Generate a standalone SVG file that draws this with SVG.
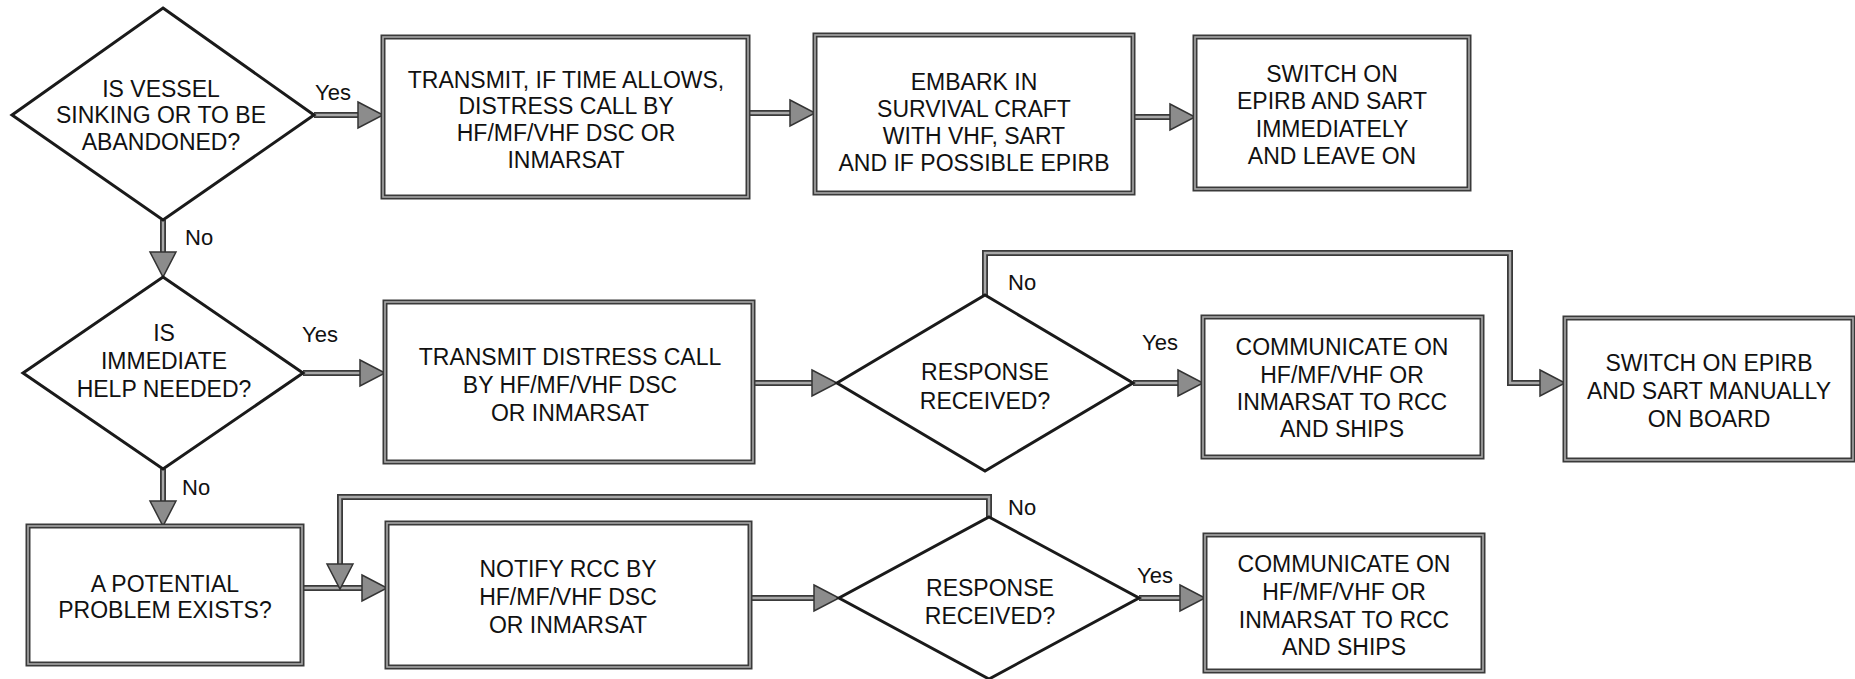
<svg xmlns="http://www.w3.org/2000/svg" width="1855" height="679" viewBox="0 0 1855 679">
<defs>
<style>
.d{fill:#fff;stroke:#1a1a1a;stroke-width:3;stroke-linejoin:miter}
.bo{fill:#fff;stroke:#3a3a3a;stroke-width:5}
.bi{fill:none;stroke:#a8a8a8;stroke-width:1.6}
.t{font-family:"Liberation Sans",Arial,sans-serif;font-size:23px;fill:#111;text-anchor:middle}
.l{font-family:"Liberation Sans",Arial,sans-serif;font-size:22px;fill:#111}
.co{fill:none;stroke:#3a3a3a;stroke-width:6}
.ci{fill:none;stroke:#a8a8a8;stroke-width:2.4;marker-end:url(#ah)}
</style>
<marker id="ah" markerUnits="userSpaceOnUse" markerWidth="30" markerHeight="30" refX="0" refY="0" orient="auto" overflow="visible">
<path d="M0,-13 L25,0 L0,13 Z" fill="#8c8c8c" stroke="#333" stroke-width="1.5" stroke-linejoin="miter"/>
</marker>
</defs>
<rect width="1855" height="679" fill="#fff"/>

<g id="connectors">
<path class="co" d="M314,115 H358"/><path class="ci" d="M314,115 H358"/>
<path class="co" d="M748,113 H790"/><path class="ci" d="M748,113 H790"/>
<path class="co" d="M1133,117 H1170"/><path class="ci" d="M1133,117 H1170"/>
<path class="co" d="M163,220 V252"/><path class="ci" d="M163,220 V252"/>
<path class="co" d="M303,373 H360"/><path class="ci" d="M303,373 H360"/>
<path class="co" d="M753,383 H812"/><path class="ci" d="M753,383 H812"/>
<path class="co" d="M985,295 V253 H1510 V383 H1540"/><path class="ci" d="M985,295 V253 H1510 V383 H1540"/>
<path class="co" d="M1133,383 H1178"/><path class="ci" d="M1133,383 H1178"/>
<path class="co" d="M163,469 V501"/><path class="ci" d="M163,469 V501"/>
<path class="co" d="M302,588 H362"/><path class="ci" d="M302,588 H362"/>
<path class="co" d="M989,517 V497 H340 V564"/><path class="ci" d="M989,517 V497 H340 V564"/>
<path class="co" d="M750,598 H814"/><path class="ci" d="M750,598 H814"/>
<path class="co" d="M1139,598 H1180"/><path class="ci" d="M1139,598 H1180"/>
<text class="l" x="315" y="100">Yes</text>
<text class="l" x="185" y="245">No</text>
<text class="l" x="302" y="342">Yes</text>
<text class="l" x="1008" y="290">No</text>
<text class="l" x="1142" y="350">Yes</text>
<text class="l" x="182" y="495">No</text>
<text class="l" x="1008" y="515">No</text>
<text class="l" x="1137" y="583">Yes</text>
</g>

<g id="d1">
<polygon class="d" points="163,8 314,115 163,220 12,115"/>
<text class="t" x="161" y="97">IS VESSEL</text>
<text class="t" x="161" y="123">SINKING OR TO BE</text>
<text class="t" x="161" y="150">ABANDONED?</text>
</g>
<g id="box1">
<rect class="bo" x="383" y="37" width="365" height="160"/><rect class="bi" x="383" y="37" width="365" height="160"/>
<text class="t" x="566" y="88">TRANSMIT, IF TIME ALLOWS,</text>
<text class="t" x="566" y="114">DISTRESS CALL BY</text>
<text class="t" x="566" y="141">HF/MF/VHF DSC OR</text>
<text class="t" x="566" y="168">INMARSAT</text>
</g>
<g id="box2">
<rect class="bo" x="815" y="35" width="318" height="158"/><rect class="bi" x="815" y="35" width="318" height="158"/>
<text class="t" x="974" y="90">EMBARK IN</text>
<text class="t" x="974" y="117">SURVIVAL CRAFT</text>
<text class="t" x="974" y="144">WITH VHF, SART</text>
<text class="t" x="974" y="171">AND IF POSSIBLE EPIRB</text>
</g>
<g id="box3">
<rect class="bo" x="1195" y="37" width="274" height="152"/><rect class="bi" x="1195" y="37" width="274" height="152"/>
<text class="t" x="1332" y="82">SWITCH ON</text>
<text class="t" x="1332" y="109">EPIRB AND SART</text>
<text class="t" x="1332" y="137">IMMEDIATELY</text>
<text class="t" x="1332" y="164">AND LEAVE ON</text>
</g>
<g id="d2">
<polygon class="d" points="163,277 303,373 163,469 23,373"/>
<text class="t" x="164" y="341">IS</text>
<text class="t" x="164" y="369">IMMEDIATE</text>
<text class="t" x="164" y="397">HELP NEEDED?</text>
</g>
<g id="box4">
<rect class="bo" x="385" y="302" width="368" height="160"/><rect class="bi" x="385" y="302" width="368" height="160"/>
<text class="t" x="570" y="365">TRANSMIT DISTRESS CALL</text>
<text class="t" x="570" y="393">BY HF/MF/VHF DSC</text>
<text class="t" x="570" y="421">OR INMARSAT</text>
</g>
<g id="d3">
<polygon class="d" points="985,295 1133,383 985,471 837,383"/>
<text class="t" x="985" y="380">RESPONSE</text>
<text class="t" x="985" y="409">RECEIVED?</text>
</g>
<g id="box6">
<rect class="bo" x="1203" y="317" width="279" height="140"/><rect class="bi" x="1203" y="317" width="279" height="140"/>
<text class="t" x="1342" y="355">COMMUNICATE ON</text>
<text class="t" x="1342" y="383">HF/MF/VHF OR</text>
<text class="t" x="1342" y="410">INMARSAT TO RCC</text>
<text class="t" x="1342" y="437">AND SHIPS</text>
</g>
<g id="box5">
<rect class="bo" x="1565" y="318" width="288" height="142"/><rect class="bi" x="1565" y="318" width="288" height="142"/>
<text class="t" x="1709" y="371">SWITCH ON EPIRB</text>
<text class="t" x="1709" y="399">AND SART MANUALLY</text>
<text class="t" x="1709" y="427">ON BOARD</text>
</g>
<g id="box7">
<rect class="bo" x="28" y="526" width="274" height="138"/><rect class="bi" x="28" y="526" width="274" height="138"/>
<text class="t" x="165" y="592">A POTENTIAL</text>
<text class="t" x="165" y="618">PROBLEM EXISTS?</text>
</g>
<g id="box8">
<rect class="bo" x="387" y="523" width="363" height="144"/><rect class="bi" x="387" y="523" width="363" height="144"/>
<text class="t" x="568" y="577">NOTIFY RCC BY</text>
<text class="t" x="568" y="605">HF/MF/VHF DSC</text>
<text class="t" x="568" y="633">OR INMARSAT</text>
</g>
<g id="d4">
<polygon class="d" points="989,517 1139,598 989,679 839,598"/>
<text class="t" x="990" y="596">RESPONSE</text>
<text class="t" x="990" y="624">RECEIVED?</text>
</g>
<g id="box9">
<rect class="bo" x="1205" y="535" width="278" height="136"/><rect class="bi" x="1205" y="535" width="278" height="136"/>
<text class="t" x="1344" y="572">COMMUNICATE ON</text>
<text class="t" x="1344" y="600">HF/MF/VHF OR</text>
<text class="t" x="1344" y="628">INMARSAT TO RCC</text>
<text class="t" x="1344" y="655">AND SHIPS</text>
</g>
</svg>
